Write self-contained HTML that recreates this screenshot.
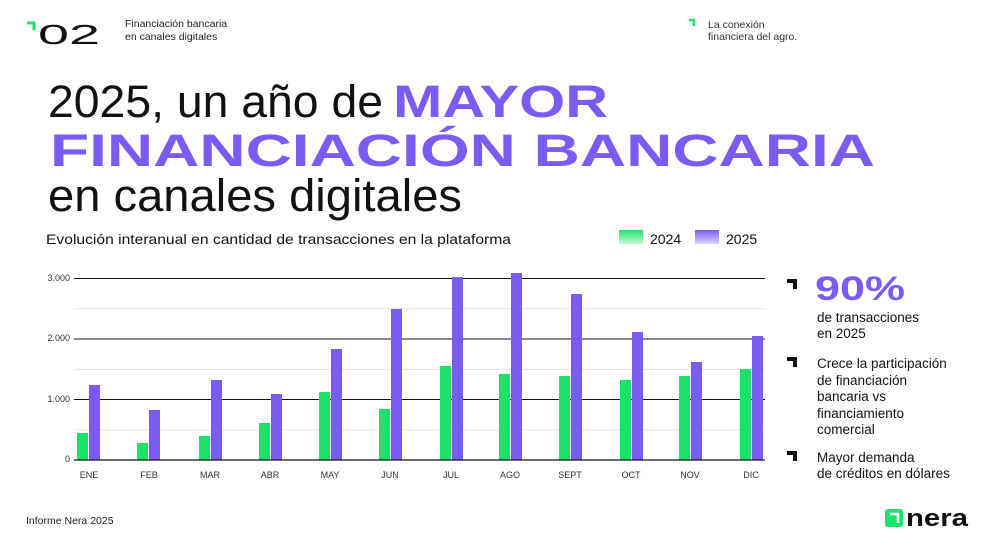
<!DOCTYPE html>
<html><head><meta charset="utf-8"><style>
html,body{margin:0;padding:0;background:#fff}
svg{display:block}
text{font-family:"Liberation Sans",sans-serif}
</style></head><body>
<svg width="988" height="544" viewBox="0 0 988 544" xmlns="http://www.w3.org/2000/svg">
<defs>
<linearGradient id="lg" x1="0" y1="0" x2="0" y2="1"><stop offset="0" stop-color="#1de26a"/><stop offset="1" stop-color="#c8f8da"/></linearGradient>
<linearGradient id="lp" x1="0" y1="0" x2="0" y2="1"><stop offset="0" stop-color="#7a5cf5"/><stop offset="1" stop-color="#ddd5fc"/></linearGradient>
</defs>
<!-- header -->
<path d="M27 23 H34 V30" fill="none" stroke="#1de26a" stroke-width="3"/>
<text x="38" y="44" font-size="28" fill="#111" textLength="62" lengthAdjust="spacingAndGlyphs">02</text>
<text x="125" y="27" font-size="10.5" fill="#222">Financiación bancaria</text>
<text x="125" y="40" font-size="10.5" fill="#222">en canales digitales</text>
<path d="M689 20 H694 V26" fill="none" stroke="#1de26a" stroke-width="2.5"/>
<text x="708" y="28" font-size="10.5" fill="#333">La conexión</text>
<text x="708" y="40" font-size="10.5" fill="#333">financiera del agro.</text>
<!-- title -->
<text x="48" y="117" font-size="45" fill="#111" textLength="335" lengthAdjust="spacingAndGlyphs">2025, un año de</text>
<text x="393" y="117" font-size="45" font-weight="bold" fill="#7a5cf5" textLength="215" lengthAdjust="spacingAndGlyphs">MAYOR</text>
<text x="50" y="166" font-size="45" font-weight="bold" fill="#7a5cf5" textLength="825" lengthAdjust="spacingAndGlyphs">FINANCIACIÓN BANCARIA</text>
<text x="48" y="211" font-size="45" fill="#111" textLength="414" lengthAdjust="spacingAndGlyphs">en canales digitales</text>
<!-- chart title & legend -->
<text x="46" y="244" font-size="14" fill="#111" textLength="465" lengthAdjust="spacingAndGlyphs">Evolución interanual en cantidad de transacciones en la plataforma</text>
<rect x="619" y="230" width="24" height="14" fill="url(#lg)"/>
<text x="650" y="244" font-size="14" fill="#111">2024</text>
<rect x="695" y="230" width="24" height="14" fill="url(#lp)"/>
<text x="726" y="244" font-size="14" fill="#111">2025</text>
<!-- grid -->
<g stroke="#e6e6e6" stroke-width="1">
<line x1="74" x2="765" y1="308.5" y2="308.5"/><line x1="74" x2="765" y1="369.5" y2="369.5"/><line x1="74" x2="765" y1="430" y2="430"/>
</g>
<g stroke="#111" stroke-width="1">
<line x1="74" x2="765" y1="278.5" y2="278.5"/><line x1="74" x2="765" y1="339" y2="339"/><line x1="74" x2="765" y1="399.5" y2="399.5"/>
</g>
<g font-size="9" fill="#333" text-anchor="end">
<text x="70" y="281">3.000</text><text x="70" y="341">2.000</text><text x="70" y="402">1.000</text><text x="70" y="462">0</text>
</g>
<g id="bars"></g>
<g fill="#1de26a">
<rect x="77" y="433" width="11" height="27"/><rect x="137" y="443" width="11" height="17"/><rect x="199" y="436" width="11" height="24"/><rect x="259" y="423" width="11" height="37"/><rect x="319" y="392" width="11" height="68"/><rect x="379" y="409" width="11" height="51"/><rect x="440" y="366" width="11" height="94"/><rect x="499" y="374" width="11" height="86"/><rect x="559" y="376" width="11" height="84"/><rect x="620" y="380" width="11" height="80"/><rect x="679" y="376" width="11" height="84"/><rect x="740" y="369" width="11" height="91"/>
</g>
<g fill="#7a5cf5">
<rect x="89" y="385" width="11" height="75"/><rect x="149" y="410" width="11" height="50"/><rect x="211" y="380" width="11" height="80"/><rect x="271" y="394" width="11" height="66"/><rect x="331" y="349" width="11" height="111"/><rect x="391" y="309" width="11" height="151"/><rect x="452" y="277" width="11" height="183"/><rect x="511" y="273" width="11" height="187"/><rect x="571" y="294" width="11" height="166"/><rect x="632" y="332" width="11" height="128"/><rect x="691" y="362" width="11" height="98"/><rect x="752" y="336" width="11" height="124"/>
</g>
<line x1="74" x2="765" y1="460" y2="460" stroke="#111" stroke-width="1.2"/>
<g font-size="9" fill="#333" text-anchor="middle">
<text x="89" y="478">ENE</text><text x="149" y="478">FEB</text><text x="210" y="478">MAR</text><text x="270" y="478">ABR</text><text x="330" y="478">MAY</text><text x="390" y="478">JUN</text><text x="451" y="478">JUL</text><text x="510" y="478">AGO</text><text x="570" y="478">SEPT</text><text x="631" y="478">OCT</text><text x="690" y="478">NOV</text><text x="751" y="478">DIC</text>
</g>
<!-- right panel -->
<g fill="#111">
<path d="M787 279 H797 V289 H793 V283 H787Z"/>
<path d="M787 357 H797 V367 H793 V361 H787Z"/>
<path d="M787 451 H797 V461 H793 V455 H787Z"/>
</g>
<text x="815" y="300" font-size="34" font-weight="bold" fill="#7a5cf5" textLength="90" lengthAdjust="spacingAndGlyphs">90%</text>
<g font-size="13.5" fill="#111">
<text x="817" y="322">de transacciones</text><text x="817" y="338">en 2025</text>
<text x="817" y="368">Crece la participación</text><text x="817" y="385">de financiación</text><text x="817" y="401">bancaria vs</text><text x="817" y="418">financiamiento</text><text x="817" y="434">comercial</text>
<text x="817" y="462">Mayor demanda</text><text x="817" y="478">de créditos en dólares</text>
</g>
<!-- footer -->
<text x="26" y="524" font-size="10.5" fill="#222">Informe Nera 2025</text>
<rect x="885" y="509" width="18" height="18" rx="3" fill="#1de26a"/>
<path d="M890 514 H898 V523" fill="none" stroke="#fff" stroke-width="2.5"/>
<text x="906" y="526" font-size="24" font-weight="bold" fill="#111" textLength="62" lengthAdjust="spacingAndGlyphs">nera</text>
</svg>
</body></html>
